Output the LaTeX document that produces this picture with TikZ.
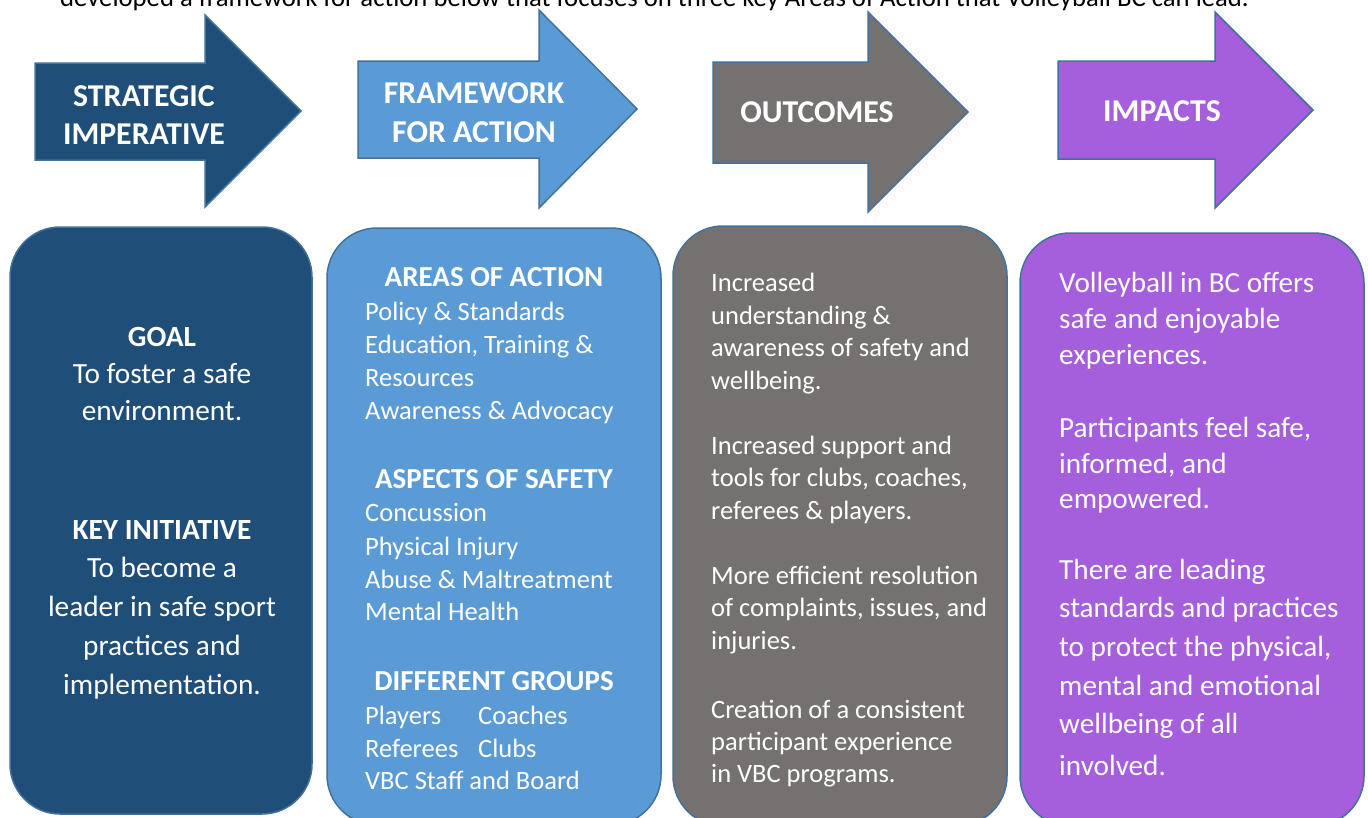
\documentclass[tikz,border=0pt]{standalone}
\usepackage{fontspec}
\setmainfont{Carlito}
\definecolor{dblue}{HTML}{1F4E79}
\definecolor{lblue}{HTML}{5B9BD5}
\definecolor{greyc}{HTML}{767171}
\definecolor{purp}{HTML}{A55EDC}
\definecolor{bord}{HTML}{41719C}
\tikzset{
  arrowshape/.style={draw=bord, line width=1.5pt, line join=miter},
  boxshape/.style={draw=bord, line width=1.5pt, rounded corners=50pt},
  ahead/.style={font=\bfseries\fontsize{31.8}{38}\selectfont, text=white, anchor=base, inner sep=0},
  hd/.style={font=\bfseries\fontsize{29}{35}\selectfont, text=white, anchor=base, inner sep=0},
  goaltxt/.style={font=\fontsize{29.3}{38}\selectfont, text=white, anchor=base, inner sep=0},
  smalltxt/.style={font=\fontsize{26.5}{33}\selectfont, text=white, anchor=base west, inner sep=0},
  bigtxt/.style={font=\fontsize{29.2}{36}\selectfont, text=white, anchor=base west, inner sep=0},
  introtxt/.style={font=\fontsize{26.7}{30}\selectfont, text=black, anchor=base west, inner sep=0}
}
\begin{document}
\begin{tikzpicture}[x=1pt,y=-1pt]
\clip (0,0) rectangle (1368,817);
\fill[white] (0,0) rectangle (1368,817);

% intro line (cut off at the top, as in the reference)
\node[introtxt] (intro) at (60,6) {developed a framework for action below that focuses on three key Areas of Action that Volleyball BC can lead.};

% arrows
\filldraw[arrowshape, fill=dblue] (35,63) -- (205,63) -- (205,15) -- (301,111) -- (205,207) -- (205,160) -- (35,160) -- cycle;
\filldraw[arrowshape, fill=lblue] (358,61) -- (539,61) -- (539,10) -- (637,109) -- (539,208) -- (539,158) -- (358,158) -- cycle;
\filldraw[arrowshape, fill=greyc] (713,62) -- (868,62) -- (868,12) -- (968,112) -- (868,212) -- (868,163) -- (713,163) -- cycle;
\filldraw[arrowshape, fill=purp] (1058,61) -- (1215,61) -- (1215,12) -- (1313,110) -- (1215,208) -- (1215,159) -- (1058,159) -- cycle;

\node[ahead] (a1a) at (144,106) {STRATEGIC};
\node[ahead] (a1b) at (144,144) {IMPERATIVE};
\node[ahead] (a2a) at (474,103) {FRAMEWORK};
\node[ahead] (a2b) at (474,142) {FOR ACTION};
\node[ahead] (a3) at (817,122) {OUTCOMES};
\node[ahead] (a4) at (1162,121) {IMPACTS};

% boxes
\filldraw[boxshape, fill=dblue] (10,227) rectangle (312,814);
\filldraw[boxshape, fill=lblue] (327,228) rectangle (661,825);
\filldraw[boxshape, fill=greyc] (673,226) rectangle (1007,826);
\filldraw[boxshape, fill=purp] (1020,233) rectangle (1364,826);

% box 1
\node[hd, font=\bfseries\fontsize{29.3}{38}\selectfont] (goal) at (162,346) {GOAL};
\node[goaltxt] (g1) at (162,383) {To foster a safe};
\node[goaltxt] (g2) at (162,420) {environment.};
\node[hd, font=\bfseries\fontsize{29.3}{38}\selectfont] (key) at (162,539) {KEY INITIATIVE};
\node[goaltxt] (k1) at (162,577) {To become a};
\node[goaltxt] (k2) at (162,616) {leader in safe sport};
\node[goaltxt] (k3) at (162,655) {practices and};
\node[goaltxt] (k4) at (162,694) {implementation.};

% box 2
\node[hd] (aoa) at (494,286) {AREAS OF ACTION};
\node[smalltxt] (b1) at (365,320) {Policy \& Standards};
\node[smalltxt] (b2) at (365,353) {Education, Training \&};
\node[smalltxt] (b3) at (365,386) {Resources};
\node[smalltxt] (b4) at (365,419) {Awareness \& Advocacy};
\node[hd] (aos) at (494,488) {ASPECTS OF SAFETY};
\node[smalltxt] (c1) at (365,521) {Concussion};
\node[smalltxt] (c2) at (365,555) {Physical Injury};
\node[smalltxt] (c3) at (365,588) {Abuse \& Maltreatment};
\node[smalltxt] (c4) at (365,620) {Mental Health};
\node[hd] (dg) at (494,690) {DIFFERENT GROUPS};
\node[smalltxt] (d1) at (365,724) {Players};
\node[smalltxt] (d2) at (478,724) {Coaches};
\node[smalltxt] (d3) at (365,757) {Referees};
\node[smalltxt] (d4) at (478,757) {Clubs};
\node[smalltxt] (d5) at (365,789) {VBC Staff and Board};

% box 3
\node[smalltxt] (o1) at (711,291) {Increased};
\node[smalltxt] (o2) at (711,324) {understanding \&};
\node[smalltxt] (o3) at (711,356) {awareness of safety and};
\node[smalltxt] (o4) at (711,389) {wellbeing.};
\node[smalltxt] (o5) at (711,454) {Increased support and};
\node[smalltxt] (o6) at (711,486) {tools for clubs, coaches,};
\node[smalltxt] (o7) at (711,519) {referees \& players.};
\node[smalltxt] (o8) at (711,584) {More efficient resolution};
\node[smalltxt] (o9) at (711,616) {of complaints, issues, and};
\node[smalltxt] (o10) at (711,649) {injuries.};
\node[smalltxt] (o11) at (711,718) {Creation of a consistent};
\node[smalltxt] (o12) at (711,750) {participant experience};
\node[smalltxt] (o13) at (711,782) {in VBC programs.};

% box 4
\node[bigtxt] (i1) at (1059,292) {Volleyball in BC offers};
\node[bigtxt] (i2) at (1059,328) {safe and enjoyable};
\node[bigtxt] (i3) at (1059,364) {experiences.};
\node[bigtxt] (i4) at (1059,437) {Participants feel safe,};
\node[bigtxt] (i5) at (1059,473) {informed, and};
\node[bigtxt] (i6) at (1059,508) {empowered.};
\node[bigtxt] (i7) at (1059,579) {There are leading};
\node[bigtxt] (i8) at (1059,617) {standards and practices};
\node[bigtxt] (i9) at (1059,656) {to protect the physical,};
\node[bigtxt] (i10) at (1059,695) {mental and emotional};
\node[bigtxt] (i11) at (1059,733) {wellbeing of all};
\node[bigtxt] (i12) at (1059,775) {involved.};
\end{tikzpicture}
\end{document}
